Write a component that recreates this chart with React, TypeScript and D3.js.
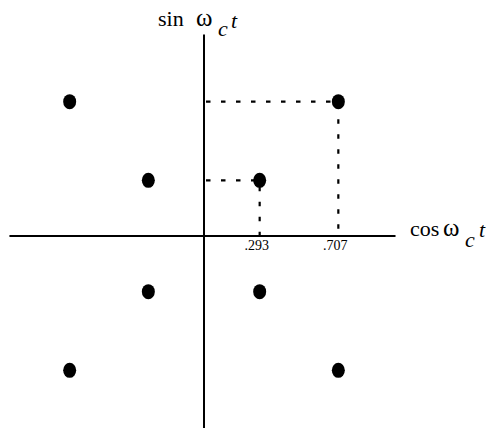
import { useEffect, useRef } from 'react';
import * as d3 from 'd3';

// constellation amplitudes (inner / outer ring)
const levels = [0.293, 0.707];
const tickLabels = ['.293', '.707'];
const signs = [
  [1, 1],
  [-1, 1],
  [-1, -1],
  [1, -1],
];

const points = levels.flatMap(a => signs.map(([sx, sy]) => ({ x: sx * a, y: sy * a })));

const App = () => {
  const svgRef = useRef<SVGSVGElement | null>(null);
  const width = 490;
  const height = 430;

  useEffect(() => {
    const svg = d3.select(svgRef.current);
    svg.selectAll('*').remove();

    const cx = 204;
    const cy = 236;
    const unit = 190;

    const x = d3.scaleLinear().domain([-1, 1]).range([cx - unit, cx + unit]);
    const y = d3.scaleLinear().domain([-1, 1]).range([cy + unit, cy - unit]);

    const g = svg.append('g');

    // dotted guide lines for the first quadrant points
    levels.forEach(a => {
      g.append('path')
        .attr('d', `M${x(0)},${y(a)}H${x(a)}V${y(0)}`)
        .attr('fill', 'none')
        .attr('stroke', '#000')
        .attr('stroke-width', 2.2)
        .attr('stroke-dasharray', '4.5 10.5')
        .attr('stroke-dashoffset', -2);
    });

    // axes
    g.append('line')
      .attr('x1', x(-1.024)).attr('x2', x(1.008))
      .attr('y1', y(0)).attr('y2', y(0))
      .attr('stroke', '#000').attr('stroke-width', 2);

    g.append('line')
      .attr('x1', x(0)).attr('x2', x(0))
      .attr('y1', y(1.06)).attr('y2', y(-1.01))
      .attr('stroke', '#000').attr('stroke-width', 2);

    // points
    g.selectAll('.pt')
      .data(points)
      .enter()
      .append('ellipse')
      .attr('class', 'pt')
      .attr('cx', d => x(d.x))
      .attr('cy', d => y(d.y))
      .attr('rx', 6.5)
      .attr('ry', 7.5)
      .attr('fill', '#000');

    // tick labels
    g.selectAll('.tick-label')
      .data(levels)
      .enter()
      .append('text')
      .attr('class', 'tick-label')
      .attr('x', d => x(d) - 3)
      .attr('y', y(0) + 14)
      .attr('text-anchor', 'middle')
      .attr('font-family', 'Liberation Serif, serif')
      .attr('font-size', 14)
      .text((d, i) => tickLabels[i]);

    // axis titles
    const font = 'Liberation Serif, serif';
    const sinT = g.append('text')
      .attr('x', 158)
      .attr('y', 26)
      .attr('font-family', font)
      .attr('font-size', 22);
    sinT.append('tspan').text('sin');
    sinT.append('tspan').attr('x', 196).attr('font-size', 25).text('ω');
    sinT.append('tspan').attr('x', 218).attr('dy', 10).attr('font-style', 'italic').text('c');
    sinT.append('tspan').attr('x', 231).attr('dy', -8).attr('font-style', 'italic').text('t');

    const cosT = g.append('text')
      .attr('x', 410)
      .attr('y', 236)
      .attr('font-family', font)
      .attr('font-size', 22);
    cosT.append('tspan').text('cos');
    cosT.append('tspan').attr('x', 443).attr('font-size', 25).text('ω');
    cosT.append('tspan').attr('x', 465).attr('dy', 11).attr('font-style', 'italic').text('c');
    cosT.append('tspan').attr('x', 479).attr('dy', -10).attr('font-style', 'italic').text('t');
  }, []);

  return (
    <svg
      ref={svgRef}
      width={width}
      height={height}
      style={{ position: 'absolute', left: 0, top: 0, background: '#fff' }}
    />
  );
};

export default App;
